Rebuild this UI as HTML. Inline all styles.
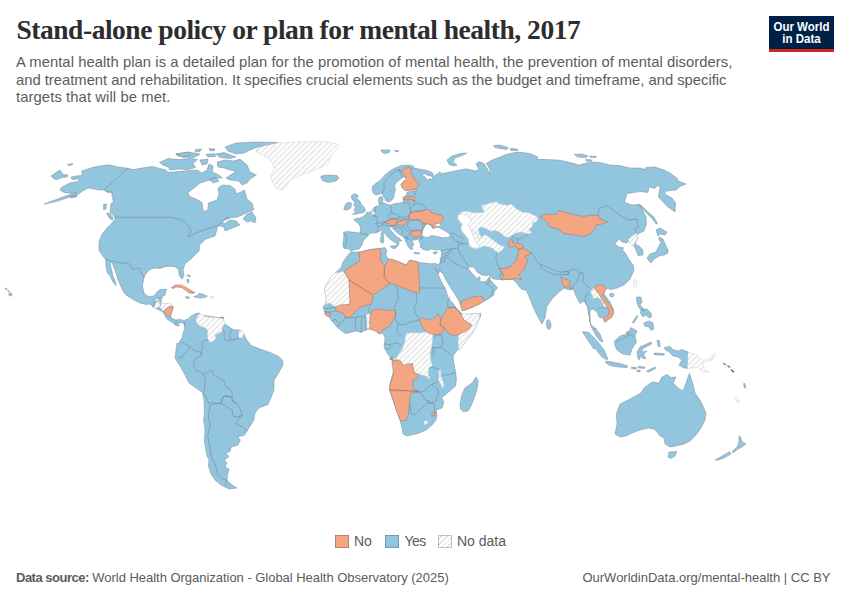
<!DOCTYPE html>
<html><head><meta charset="utf-8">
<style>
html,body{margin:0;padding:0;background:#fff;}
body{width:850px;height:600px;position:relative;overflow:hidden;font-family:"Liberation Sans",sans-serif;}
.abs{position:absolute;white-space:nowrap;}
#title{left:16.5px;top:15px;font-family:"Liberation Serif",serif;font-weight:bold;font-size:27.5px;line-height:30px;color:#2d2d2d;letter-spacing:-0.47px;}
.sub{left:16px;font-size:14.8px;line-height:18px;color:#5b5b5b;}
#logo{left:769px;top:16px;width:65px;height:33px;background:#002147;border-bottom:3px solid #ce261e;color:#fff;font-weight:bold;font-size:11.5px;line-height:11.5px;text-align:center;}
.leg{font-size:14px;line-height:16px;color:#5b5b5b;top:533.3px;}
.sw{position:absolute;top:534.7px;width:13.6px;height:13.8px;box-shadow:inset 0 0 0 0.8px rgba(0,0,0,0.28);}
.foot{font-size:13px;line-height:16px;color:#5b5b5b;top:570px;}
</style></head><body>
<div id="title" class="abs">Stand-alone policy or plan for mental health, 2017</div>
<div class="abs sub" id="s1" style="top:52.7px;letter-spacing:0.052px">A mental health plan is a detailed plan for the promotion of mental health, the prevention of mental disorders,</div>
<div class="abs sub" id="s2" style="top:70.7px;letter-spacing:-0.009px">and treatment and rehabilitation. It specifies crucial elements such as the budget and timeframe, and specific</div>
<div class="abs sub" id="s3" style="top:88.3px;letter-spacing:0.09px">targets that will be met.</div>
<div id="logo" class="abs"><div style="margin-top:5.5px;transform:scaleY(1.08)">Our World</div><div style="transform:scaleY(1.08);margin-top:0.7px">in Data</div></div>
<svg class="abs" style="left:0;top:0" width="850" height="600" viewBox="0 0 850 600">
<defs><pattern id="h" width="4" height="4" patternUnits="userSpaceOnUse" patternTransform="rotate(45)"><rect width="4" height="4" fill="#fff"/><rect width="1.3" height="4" fill="#e2e2e2"/></pattern></defs>
<path d="M350.6,251.2 L348.8,248.8 L344,248.5 L342.8,245 L343.5,240 L344,234.4 L343.5,232.2 L347.5,231.5 L353.8,232.2 L360,233.1 L360.6,228.8 L360,226.2 L358.1,223.1 L353.8,220 L355,218.8 L360,218.1 L363.8,216.2 L366.9,212.5 L369.4,212.2 L371.2,211.5 L372.5,210 L373.8,207.5 L376.2,206.2 L378.1,206 L379.4,204.4 L378.5,201.2 L378.8,198.1 L381.2,196.2 L383.1,197.8 L382.5,200.6 L383.1,202.5 L385,203.5 L387.5,204.4 L390.6,205 L395,203.5 L400,203.1 L403.1,202.5 L403.5,200.6 L403.1,198.8 L403.1,197.5 L405.6,196 L406.5,194.4 L406.9,192.5 L410,191.2 L415,191.2 L416.9,190.6 L415,189.8 L410,190 L405.6,190.6 L402.5,188.1 L401,184.4 L403.1,181.9 L406.5,178.8 L405,176.9 L402.5,177.5 L399.4,180 L395.6,183.1 L394.4,186.2 L395.6,189.4 L394.4,193.1 L393.8,196.9 L391.9,200 L389.4,201.9 L386.9,201.2 L385.6,200.6 L384.4,197.5 L383.1,196.2 L382.5,193.1 L380.6,193.8 L376.9,195 L373.8,193.8 L372.2,190.6 L372.5,186.2 L376.2,183.1 L380.6,180 L385,175 L389.4,171.2 L395,168.1 L401.2,165.6 L408.8,165 L413.8,166.2 L413.1,167.8 L418.8,169 L425,170 L431.2,171.9 L433.8,174.4 L431.9,176.2 L428.1,175.6 L425,173.8 L421.2,175 L425,176.9 L427.5,180 L430,178.8 L433.1,179.4 L431.9,176.9 L435,175.6 L437.5,173.8 L440,171.9 L441.9,173.8 L447.5,172.5 L453.8,171.2 L460,170 L466,168.8 L476,171 L479,169 L476,164 L479,161.6 L484,163.6 L488,170 L490,175 L490,170 L488,166 L486,163.6 L492,160 L500,157 L506,154.4 L518,152 L530,153.6 L538,157 L536,159 L546,159.6 L558,160 L566,161.6 L574,163.6 L579,165 L584,163.6 L592,162 L600,162.4 L610,165 L620,165.6 L630,168 L640,168 L646,169.6 L645.6,167.6 L655,167 L664,170 L670,173 L678,179 L676,180 L686,184 L680,186.4 L676,190 L666,191 L664.4,194 L672,198 L675.6,203 L675,212 L668,207 L662,201 L658.4,197 L660,188 L658,185 L655,188.4 L649,187 L648,192.4 L640,191.6 L627,193.6 L624.4,202.4 L632,205 L639,204.4 L643,211 L646,217 L646.4,224 L644,231 L638,234 L637.6,238 L635,244 L639,246 L643,250 L643,255 L638,255.6 L636,250 L634,246 L630,243 L628,240 L627,243 L622,242 L619,239 L615,244 L619,247 L624,248 L622,249 L626,254 L628,258 L633,265 L634,270 L630,279 L624,285 L617,288 L611,289.6 L606,288 L604,294 L610,302 L613.6,310 L612.4,316 L605,322 L603.6,318.4 L599,317 L597,312 L593,309 L590,310 L589.6,320 L591,325 L595,328 L600,334 L603,342 L600,341 L596,335.6 L591,326 L589,316 L588,307 L584,301 L580,303.6 L576,296 L573,288 L571,290 L566,289 L564,288 L559,292 L552,299 L547,306 L545,318 L542,324 L539,319 L534,309 L530,299 L526.3,290.3 L522,289.6 L519.2,286.8 L516.3,282.5 L512.8,279.4 L501.5,279.7 L493.7,279 L490.8,277.5 L489.4,274.7 L485.9,275.7 L480.9,274.7 L476.7,271.5 L473.8,267.3 L468.9,266.6 L467.5,268.1 L469.6,270 L472.1,273.3 L475,276.6 L476.4,278.5 L478.4,278.5 L478.8,276.6 L480.1,277.5 L479.8,281.4 L483.8,282.1 L486.6,280.7 L489.4,276.6 L490.1,279.7 L492.3,282.5 L495.1,285.1 L497.6,287.5 L494.4,291.7 L493.7,295.3 L489.4,298.1 L483.8,301.2 L479.5,303.8 L473.8,306.6 L466.8,309.4 L462.2,310.8 L461.1,306.6 L459,300.9 L454.7,293.8 L450.5,287.5 L446.2,280.4 L442.7,273.3 L440.5,271.9 L439.8,269 L439.6,271.9 L438.4,273.3 L434.9,267.6 L437.7,271.9 L439.1,276.8 L442.7,283.9 L446.2,291 L448.3,298.1 L453.3,303.8 L457.5,309.4 L460.4,312 L460.4,313.7 L466.8,314.4 L480.9,313.4 L480.2,317.2 L476.7,325 L472,334 L462,346 L459,350 L458,349 L453,356 L454,364 L455.6,372 L456.4,379 L455.6,386 L448,392.4 L441.6,398 L444,402 L442,408 L436,410 L437,414 L436.4,419 L433,424 L426,430 L418,433.6 L407,436 L403,434 L402,428 L400,420 L397,412 L393,400 L389.6,390 L390,383 L394,370 L392,360 L391,358.4 L387,353 L384,346 L384.4,344 L385,338 L383,333 L379,334 L375,330 L370,329 L366,330 L361,332.4 L356,331 L346,333.6 L343,332 L337,327 L332,321 L329,317 L325,314.4 L324.4,311 L323,307 L325.6,304 L326.4,298 L324.4,290 L326,285 L331,277 L335,273 L341,268 L343,262 L348,255 L351,252 L360,252 L370,249.6 L380,248.4 L385,247.6 L387,251 L385.6,255 L388.4,259 L394,260 L400,262.4 L406,265 L410,260 L418,262 L418.8,262.5 L425,263.1 L430,263.8 L435,263.5 L438.1,264.4 L439.4,264 L440.2,261.2 L441,257.5 L441.5,253.8 L441.2,250.6 L438.8,249.4 L435,250 L431.2,249 L426.9,250.6 L423.1,249.4 L420,246.9 L420.6,244.4 L418.8,240.6 L420,238.8 L422.5,238.1 L421.2,238.8 L418.1,239 L415,240 L411.2,240.6 L413.1,242.5 L413.8,245 L411.9,246.2 L413.1,248.8 L411.2,249.8 L408.8,247.5 L406.9,243.8 L405.6,241.2 L404.4,238.1 L401.2,235.6 L397.5,233.1 L393.8,229.4 L391,226.5 L388.8,227.5 L390.6,230 L393.1,233.1 L396.2,236.2 L400,238.8 L401.9,241 L398.1,240.6 L399.4,243.1 L398.1,245.6 L396.2,247.5 L397.2,244.4 L395,242.5 L391.2,240 L387.5,236.9 L384.4,233.1 L381.2,230.6 L378.1,231.9 L376.2,233.1 L372.5,232.8 L369.4,233.8 L368.1,235.6 L363.8,240 L361.9,245 L359.4,248.8 L353.8,249.8Z M115,218.4 L114,216 L110,212.4 L110.4,209 L111,203.6 L114,201 L113,197.6 L112.4,192 L107.6,192.4 L104,190 L99,190 L94,189 L88,188 L82.4,191.2 L76.4,195.6 L70,197 L56,201.6 L44,204 L56,199.6 L70,194.4 L76.4,192.4 L70,193.2 L64,192.4 L60,190 L62,187 L70,183 L78,181.4 L80,179 L72,179.4 L71,177 L76,176 L82.4,175.2 L81.6,171 L94,167 L108,164.8 L118,167 L128,168.2 L133,169.6 L142,168 L152,166.4 L158,168 L166,170 L168,172.4 L178,171.6 L190,170.4 L197,170 L202,173 L207,170 L209,164 L213,166 L212.4,172 L218,174.4 L222.4,178 L215,178 L210,180 L200,183 L194,188 L188,192.4 L189,196 L196,199 L202,202.4 L203,210 L205.6,211.6 L208,209 L208.4,203 L217,200 L219,194 L218,188 L222.4,185 L230,185.6 L235,189 L236,193.6 L240,192.4 L244.4,190 L247,199 L252.4,203.6 L253.6,210 L248.4,212 L242,215 L237.6,217 L230,218 L222.4,221 L224,224 L230,220 L236,221 L240,225 L230,229 L225,231 L224,227 L218,225.6 L215,236 L206,239 L200,244 L199,251 L192,258 L185,264 L183,270 L184,276 L182,279 L179.4,276 L178.4,269 L174,266.4 L166,266.4 L160,268.4 L154,268 L149,270 L145,275 L144,277.6 L142.4,286 L144,293 L148,296.4 L154,296 L157,292 L160,289.6 L166.4,289.2 L165,295 L162,297 L161,302.4 L160,304 L166,303.6 L172,305 L173,308 L171,314 L170,317 L173,319 L176,320 L180,319.4 L184,320.4 L188,319 L191,316 L196,313.6 L200,313 L198,316 L200,318 L204,315.6 L210,316.4 L220,317.6 L223,318 L224,323 L229,327 L234,330 L240,330 L244,334 L246,339 L250,344 L250,345 L260,349 L270,352.4 L278,356 L282.4,360 L283,365 L278,374 L274,380 L274,390 L270,400 L268,404.4 L259,408 L255,413 L254,419 L254,420 L247,431 L244,435.6 L237.6,436.4 L240.4,440 L238,445 L231,447 L230,451.6 L225.6,453 L229,456.4 L224.4,460 L227,463 L225,467 L229,469 L227.6,474 L227,480 L232,485 L237,488 L229,489 L221,485 L215,480 L211,474 L208.4,466 L209,460 L207,456 L204.4,442 L205,430 L203.6,420 L204.4,412 L204,400 L202.4,392.4 L196,388 L189,383 L185,375 L180,366 L175,358 L176,350 L177,343 L178,344 L182,338 L184,330 L185,327 L184.2,324 L181.4,322.4 L178.6,323.2 L179,326 L176,325.6 L173,323 L170,321 L167,319 L165,316 L163,312 L157,309 L153,307 L150,304 L146,304.4 L140,303 L134,300 L126,295 L123,291 L118,280 L115,270 L112,262.4 L110,263 L113,276 L115.6,282 L116,285.6 L113,282 L110,276 L107,272 L106,266 L105.6,259.6 L102,255 L99,250 L99,242 L102,234 L107,228 L113,222Z M159.6,162.4 L168,158.6 L179,159.6 L190,158.4 L197.6,159.6 L193,163.6 L195.6,167.6 L188,169.6 L179,169 L170,170 L168,167 L163,165Z M175.6,154 L188,152 L190,155 L184,157 L178,156Z M176,154 L188,152 L200,154 L194,157.6 L182,157Z M195.6,149.6 L201.6,149 L200,151.6 L195,151.6Z M209,148.4 L215,149 L214,151 L209.6,150.4Z M206,154.4 L215,153.6 L215.6,156.4 L208,157Z M216,154 L224,152.6 L236,157 L230,158.4 L220,157.6Z M200,160 L208,159 L207,164 L202,165Z M225,147 L236,143 L254,142 L278,142.4 L270,145 L258,147 L250,150 L244,153 L236,154 L228,151Z M217,162 L225,160 L234,161 L240,159 L247,165 L250,172 L256.4,175 L250,179 L247,183 L242,185 L239,181 L230,180 L226,178 L232,174 L236,171 L230,170 L224,168 L218,167Z M209,179 L215,177 L219,181 L213,183Z M243,219 L247,214 L252,212 L256,218 L255,223 L251,221 L247,222Z M321,176 L328,175 L337,175.6 L339,178 L336,181 L329,182.4 L323,181 L321,178Z M51,176 L60,170 L63,174.4 L68,175 L67,177 L62,177.6 L57,179.6 L54,179Z M615,434 L617,424 L616.4,414 L620,404 L630,399 L641,393 L644,388 L652,382 L659,383 L662,377 L667,374.4 L671,377.6 L676,377 L673,383 L678,388 L683,391 L686,383 L688,377 L689.6,373.6 L691,378 L693,384 L695,393 L700,400 L703,406 L706,413 L705,420 L701,428 L696,435 L690,441 L684,444 L676,446 L670,447 L665,444 L664,438 L660,436 L658,433 L654,429 L648,428 L640,430 L632,433 L626,436 L620,437Z M669,452 L677,451.6 L675,456 L671,458.4 L668,457Z M739,435.6 L741,438 L742,442 L746,443.6 L742,447 L738,449 L733,453 L732.4,451 L737,447 L739,442Z M730,451.6 L731,454 L724,458 L718,460 L715,460 L722,456Z M193.8,296.6 L197.4,295.5 L198.8,293.4 L203,294.1 L207.3,296.2 L204.5,297.6 L200.2,298.1 L196.7,297.6Z M185.1,296.9 L188.2,296.6 L189.6,298.1 L186.8,298.6Z M221,317 L223.6,317 L223.6,318.9 L221,318.9Z M609.5,294 L612.3,292.9 L614.4,294.7 L612.7,297.1 L610.2,296.6Z M546.4,320.9 L549,319.5 L551,323.8 L550.7,328 L548.5,329.7 L546.7,327.3Z M351.9,195 L355.6,193.8 L358.1,195.6 L356.9,198.8 L359.4,200.6 L361.9,205 L364.4,207.5 L365.6,210.6 L363.8,212.5 L358.8,213.5 L352.5,214.4 L355.6,212.2 L353.8,210 L355.6,207.5 L353.8,205 L355,201.9 L352.5,200 L351.2,196.9Z M343.8,209.4 L345.6,203.8 L349.4,201.9 L351.9,203.8 L350.6,208.1 L347.5,210Z M381,233.1 L383.1,232.5 L383.8,236.9 L383.5,242.5 L381.2,243.1 L380.2,239.4 L381.2,236.2Z M390,246.2 L396.2,245.6 L395,248.8 L391.9,248.1Z M413.8,252.5 L419.4,252.8 L419.8,253.8 L414.4,253.8Z M432.8,252.8 L436.9,251.5 L437.5,252.8 L434.4,254Z M381,150 L390,150 L389,152.4 L385,153.6 L381.6,152Z M394.4,150 L399,151 L396,152Z M447,160 L452,156 L460,153.6 L467,153 L462,155.6 L455,158 L453,162 L457,165 L454,166 L449,164.4Z M493.6,145.6 L500,145 L508,147.6 L507,149.6 L500,148.4 L495,147.6Z M510,148.4 L517,149 L518,150.4 L511,150.4Z M574,154.4 L582,154 L588,156 L586,157.6 L578,157Z M589.6,156 L596.4,156.4 L596,157.6 L590,157.2Z M585.6,159.4 L592,160 L591,161.6 L586,161Z M659,237 L663,239 L665,244 L668,250 L668,253 L664,255 L659,256 L654,259 L651,263 L649,261 L647,258 L650,254 L656,252 L658,248 L661,242 L659,240Z M656,230 L660,228 L667,232 L665,235 L660,234 L658,236Z M639,204.4 L641,205 L647,211 L654,217 L657.6,224 L656,224 L652,218.4 L645,211.6 L639.6,206Z M636.4,297 L641,297 L642,302 L640,305 L643,308 L645,311 L642,310.4 L639,308 L637,303Z M641,310 L647,309 L651,313 L651.6,317 L649,318 L646,315 L643,317 L640.4,313Z M643.6,323 L649,321 L653,323 L654,329 L651,330.4 L649,327 L645,326.4Z M632.4,322.4 L637,315.6 L638,316.4 L633.6,323.2Z M614.4,341 L620,336 L627,334 L631,327.6 L637,331 L635,336 L636.4,342 L632,349 L630,355 L622.4,354 L617,350 L615,346Z M582.4,331.6 L589,332.4 L598,342 L604,350 L607.6,358 L607,360 L602,357 L594,347 L594,349 L587,339Z M605.6,361 L612,362 L620,363.6 L628,366 L627,367.6 L618,367 L610,365.6 L606,363Z M631.6,367 L636.4,367.6 L636,369.2 L631.6,368.6Z M638,366.4 L645,367 L644.4,368.4 L638.4,368Z M637,370 L640.4,370.4 L640,372 L637.2,371.6Z M646.6,371 L655,367 L655.6,368.4 L648,372.4Z M638,359 L637,352 L640,347 L651,342 L651.6,344 L643,348.4 L641.6,352 L647,351 L643.6,354.4 L646,359 L642.4,358 L641,355 L639.6,359.6Z M657,340 L659.6,341 L660,347 L658,346Z M654,353 L664.4,353.6 L664,355.2 L654.4,354.8Z M664.4,347.6 L670,346.4 L673,349.6 L678,351 L682,349.6 L688,352 L687.6,368.4 L683,367.6 L679,365 L682,360 L678,357 L673,356 L669,352 L665,349.6Z M743.6,383.6 L745,383.6 L745.6,388 L744.4,388Z M460,404 L462,394 L465,388 L472,383 L476,377 L478,380 L477.6,387 L475,396 L471,406 L468,411 L463,411.6 L460.4,409Z M9,292.8 L12,293.3 L11.6,296 L9,295.6Z M5,288 L7,288.8 L6.6,290Z M7.5,290 L9.5,291.3 L9,292Z M106.6,213.6 L109,213 L113,217.6 L112.4,220 L109.6,218.4Z M103.6,204.4 L106.4,204 L106,209 L103.6,209.6Z M70,196 L76.4,194.8 L77,196.8 L71,198Z M67.6,164.4 L72.4,163.6 L72.8,164.8 L68.4,165.6Z M186.8,275 L190.3,275.4 L189.9,277.4 L188.9,276 L187,276Z M187,279.2 L188.9,279.6 L188.7,283 L187.3,282.5Z" fill="#92c5de" stroke="#7f8a93" stroke-width="0.5" stroke-linejoin="round"/>
<path d="M256,150 L264,146 L278,143 L298,142 L322,141.6 L338,144 L339,147 L334,152 L330,158 L328,164 L320,168 L310,172 L298,176 L290,180 L286,187 L281,190 L276,188 L272,182 L271,176 L274,170 L273,164 L268,158 L262,155 L256,152Z M335,273 L344,271.6 L349,280 L350,304.4 L340,305 L335.6,307 L330,303 L325.6,304 L326.4,298 L324.4,290 L326,285 L331,277Z M366,315 L370,313.6 L370,328 L367,329 L367,320Z M406.1,333.5 L412.5,332.8 L419.6,333 L426.7,332 L433,334.2 L432.3,341.3 L431.6,347.6 L430.2,354 L430.9,361.1 L432.3,365.3 L428.8,368.2 L428.1,375.3 L430.2,378.1 L429.2,378.8 L426,376 L422.4,375.3 L418.2,373.8 L414.6,373.6 L413.2,368.2 L412.5,363.6 L407.5,364.2 L403.3,365.3 L401.2,361.1 L396.9,359 L392.7,360 L392.4,358.3 L396.2,358 L399.8,352.6 L402.6,348.3 L404.7,342.7 L405.4,337Z M462,313.6 L470,314.4 L480,313.6 L479,320 L472,334 L462,346 L459,350 L458,342 L459,334 L468,324 L461,318Z M438.7,370.3 L440.8,370.3 L440.8,376.7 L443,380.9 L444,385.9 L442.5,388 L440.8,383.8 L438.7,380.9 L439.1,375.3Z M423.6,422 L427,420.4 L428,423 L425,425Z M457.8,216.3 L461.4,212 L466.3,211.3 L473.4,212.7 L481.9,212.7 L484.8,211.3 L482.6,209.2 L481.9,205.6 L489,203.5 L496.1,201.8 L500.3,204.2 L507.4,205.2 L511.7,204.2 L515.9,208.5 L521.6,212 L528.7,212.7 L535.8,216 L537.9,217.4 L536.5,221.9 L532.9,222.6 L532.2,226.9 L528.7,229 L531.5,233 L528.7,234 L521.6,232.1 L515.9,233 L511.7,235.4 L507.7,237.5 L503.9,236.1 L500.3,232.5 L495.4,230.4 L490.4,231.1 L485.5,228.3 L481.2,226.9 L478.4,228.3 L479.1,234 L481.9,237.2 L478.4,238.9 L476.3,233.3 L470.6,229.7 L463.5,227.6 L460.7,223.3Z M470.6,229.7 L476.3,233.3 L478.4,238.9 L481.9,237.5 L484,234.7 L486.9,235.4 L490.4,238.2 L496.1,242.5 L500.3,245.3 L504.6,246.7 L502.5,249.5 L498.2,252.8 L495.4,251 L492.5,248.1 L487.6,246.7 L483.3,246 L479.1,248.1 L474.8,248.8 L470.6,247.4 L468.5,243.9 L469.9,240.3 L467.8,236.1 L469.2,231.8Z M590.3,291.9 L593.9,287.6 L595.3,289.8 L597.4,291.9 L599.5,294.7 L601.7,299 L605.2,303.9 L607.3,307.5 L604.5,307.5 L602.4,302.5 L599.5,298.3 L596,297.5 L593.2,299 L592.5,295.4Z M633.5,280.5 L635.7,279.1 L637.1,281.3 L636.4,286.2 L634.5,287.6 L633.5,284.1Z M628,240 L633,235.5 L636.5,233.5 L638,235 L637,239 L634.5,243 L633.5,245.5 L631,246 L630,243Z M156.3,299 L159.6,299 L159.1,304 L164.1,303.3 L171.2,303.7 L172.9,306.1 L168.3,307.1 L164.8,309.7 L162.7,311.1 L161.3,308.3 L158.4,307.5 L155.6,308.3 L153.5,307.1 L155.6,304.7Z M196,318.9 L198.1,315.3 L200.2,313.2 L202.3,315.3 L207.3,317 L213.7,317.5 L219.3,317.9 L223.6,318.9 L225,323.1 L222.9,326 L222.2,330.9 L219.3,333 L215.1,334.5 L215.8,338 L213.7,340.8 L210.1,342.3 L208,339.4 L207.3,334.5 L208,330.2 L204.5,327.4 L200.2,326 L196.7,323.1Z M238.5,330.9 L242,330.6 L244.1,333.8 L242,338 L239.2,339.1 L237.8,335.2Z M209.7,296.6 L213.7,296.4 L214,298.1 L210.1,298.3Z M370.6,212.2 L373.1,211.2 L375,213.1 L374.4,215 L371.9,214.8Z M688,352 L696,354.4 L701,359 L705,362 L702,364 L706,370 L709,372.4 L702,371.6 L698,367 L693,368 L687.6,368.4Z M705,359.6 L710,358.4 L714,353.6 L715.6,354.4 L712,360 L706,361.2Z M734.4,397.6 L736,397.2 L739.6,402.4 L738.4,403.6Z" fill="url(#h)" stroke="#d0d0d0" stroke-width="0.5" stroke-linejoin="round"/>
<path d="M359,252.4 L370,249.6 L380,248.4 L381,255 L380,259 L384.4,265.6 L384,277 L389,283 L389,284.4 L373,295 L349,280 L344,271.6 L351,266 L360,261Z M388.4,259 L394,260 L400,262.4 L406,265 L410,260 L418,262 L419,276 L419.6,293 L416,293 L397,285.6 L389,283 L384,277 L385,265.6Z M349,280 L373,295 L372,303.6 L364,306 L359,308 L352,315 L350,318 L345,317 L343,313 L336,311 L335.6,307 L340,305 L350,304.4Z M372,310 L378,309 L387,310.4 L395,310 L396,315 L392,322 L389,327 L383,329 L380,333.6 L375,331 L370,329 L369.6,320 L371,314Z M419,320 L422,318 L430,320 L436,317 L438,313.6 L440,317 L441,322 L440,325 L444.4,328 L442,333 L436,335 L428,333 L423,328Z M440,322 L443,315 L448,308 L454,307 L459,311 L462,316 L464,320 L472,325 L468,330 L460,334 L453,335.6 L448,333 L444,328 L440,325Z M461.1,300.9 L466.8,299.5 L473.1,297 L479.5,296 L482.3,296.7 L483.8,301.2 L479.5,303.8 L473.8,306.6 L466.8,309.4 L462.2,310.8 L461.1,306.6Z M325,313 L330,312.4 L331,315 L328,316.4 L325.6,315Z M390,357.6 L392.4,357.6 L392.4,359.6 L390,359.6Z M391,357.5 L392.4,357.5 L392.4,359.7 L391,359.7Z M392.7,360.4 L400.5,361.1 L403.3,365.3 L407.5,364.2 L412.5,363.6 L413.2,368.2 L414.6,373.6 L418.2,374.1 L417.5,378.8 L413.2,379.5 L412.5,385.2 L413.9,389.4 L418.9,390.8 L416.8,391.5 L411.1,390.8 L405.4,390.6 L389.8,389.7 L389.6,386.6 L391.3,380.9 L393.4,373.8 L392.7,366.8 L392,362.5Z M389.6,390 L410,391 L418,391.6 L418.4,392.4 L411,393 L409.6,402 L408,416 L406.4,420 L403,421 L400,420 L397,412 L393,400Z M431.6,413 L434.4,412.4 L435,415.6 L432.4,416.4Z M398.1,169.4 L402.5,171.2 L405.6,168.1 L408.8,167.2 L411.2,168.8 L411,172.5 L413.1,176.2 L415,180.6 L419.4,183.8 L416.2,188.1 L415,189.8 L410,190 L405.6,190.6 L402.5,188.1 L401,184.4 L403.1,181.9 L406.5,178.8 L405.6,176.2 L403.1,173.8 L400.6,171.2Z M403.1,197.5 L405.6,196 L408.1,197.2 L410,196 L413.8,196.5 L416.2,199.4 L415,200.6 L411.2,199.8 L407.5,200.2 L403.8,199.8Z M411.2,211.2 L415,210.6 L421.2,211.2 L426.2,209.4 L430,210 L431.2,212.5 L436.2,213.8 L441.9,215.6 L443.5,217.5 L442.5,221.2 L439.4,223.1 L435,223.8 L436.2,225.6 L438.1,227.5 L435,229 L432.5,227.5 L432.5,225 L427.5,223.8 L425,223.1 L424.4,226.2 L422.2,226.5 L422.5,223.8 L421.2,221.2 L418.1,219.8 L415,220 L410,220.2 L408.5,218.8 L409.4,215.6 L410.6,213.1Z M383.1,221.9 L386.2,221.2 L390,219.4 L393.8,218.1 L397.2,219 L396.9,221.9 L395.6,223.8 L395,226.2 L391.9,226.2 L390.6,224.4 L386.9,223.1 L383.8,222.8Z M397.2,221.9 L400,221.2 L403.8,220 L408.1,219.4 L407.5,221.9 L405,224.4 L401.2,225.6 L398.1,225 L396.9,223.1Z M411,231 L416,230 L421,230.4 L421.6,233.6 L420,236.4 L415,237.2 L411.6,235.6Z M374,215 L375.2,215 L375.2,216.5 L374,216.5Z M508.1,242.5 L510.5,241 L511.4,238.9 L513.1,240.1 L512.4,242.5 L517.3,243.2 L522.3,244.6 L524.1,246.7 L521.6,248.1 L518,248.8 L515.9,246.7 L513.8,245.3 L511.7,248.1 L509.5,247.4 L508.8,244.6Z M518,249.5 L521.6,248.6 L525.8,249.5 L528.7,251.7 L531.8,252.8 L528.7,255.2 L525.1,255.9 L526.5,258.8 L528,260.9 L525.8,264.4 L524.4,268.7 L521.6,272.2 L518.8,274.3 L520.9,277.9 L521.6,280 L517.3,278.3 L511.7,278.9 L501.8,280 L503.2,275.8 L501,271.5 L498.9,268.7 L504.6,268.4 L511,266.5 L513.1,263 L515.9,261.6 L517.3,255.9 L518.8,252.4Z M540,217 L547,214 L557,214.4 L559,210.4 L565,212 L574,215 L584,216.4 L591,215 L598,215.6 L600,219 L608,222 L602,224 L596,225 L594,230 L590,234 L584,236.4 L574,235 L564,233.6 L558,229 L550,227 L547,222 L543,219Z M593.9,286.9 L599.5,284.4 L603.8,285.5 L606.6,289 L603.8,291.9 L602.8,295.4 L605.9,299.7 L609.5,303.9 L612.7,308.9 L613.7,313.8 L611.6,317.4 L607.3,320.2 L604.5,322.3 L603.8,318.1 L607.3,316 L609.5,313.1 L608,308.2 L605.2,303.9 L601.7,299 L599.5,294.7 L597.4,291.9 L595.3,289.8Z M560.6,276.7 L563.4,278.4 L567,279.8 L570.5,281 L569.4,283.4 L570.5,286.2 L571.9,289.8 L570.2,289 L568.4,286.2 L564.8,287.6 L562.7,284.1 L561.7,280.5Z M626,332.5 L627.9,331.5 L628.6,333.4 L626.9,334.4Z M171.2,287.7 L175.4,284.9 L181.1,284.9 L186.8,287.7 L191,290.5 L195,292.4 L193.1,293.4 L188.9,293 L186,290.5 L181.8,287.7 L176.8,287 L173.3,288.4Z M164.8,309.7 L168.3,307.1 L172.9,306.1 L172.3,310.4 L170.9,313.9 L170.5,316.8 L167.6,315.6 L164.8,313.2 L163.4,311.4Z" fill="#f4a582" stroke="#8a7a72" stroke-width="0.5" stroke-linejoin="round"/>
<path d="M425.6,224.8 L428.1,224 L431.2,226.2 L433.1,228.8 L435.6,227.8 L438.1,227.2 L441.2,228.8 L445.6,231.2 L449.4,233.8 L450.2,235.6 L448.1,237.5 L442.5,237.8 L436.2,236.2 L431.9,235.6 L427.5,237.5 L423.8,236.9 L421.9,235 L422.5,231.2 L423.8,227.8Z M435,224 L439.4,223.1 L440.6,225 L438.8,226.5 L435.6,226.2Z" fill="#fff" stroke="#7f8a93" stroke-width="0.5" stroke-linejoin="round"/>
<path d="M458.1,215 L461.2,213.8 L466.2,215 L470,217.5 L471.2,221.9 L468.1,225 L470,228.1 L471.9,232.5 L473.8,237.5 L476.2,242.5 L480,246.2 L477.5,248.5 L472.5,247.5 L469.4,244.4 L468.1,238.8 L465,235 L461.9,231.2 L460.6,227.5 L463.1,224.4 L460,221.9 L457.8,218.8Z" fill="#fff" stroke="#b9c2c8" stroke-width="0.5"/>
<path d="M723,363 L726,364 L725.6,365.2 L722.8,363.8Z M727.6,365 L730.4,367 L729.6,368 L727.2,366Z M731,369 L734.4,371.6 L733.6,373 L730.6,370Z" fill="#2e7d5b"/>
<path d="M128,168.2 L104.4,189.6 L107,191.6 L111.6,192.4 L112.4,198 L113.6,201 M115,217.2 L171,217.2 L176,218.4 L182,220 L188.4,225.6 L191.2,231.6 L188,236 L190,236.4 L196,233 L206,229.2 L217,226 L222.4,221.6 L224.4,219 L227.6,217.2 L230,218.4 M105.6,259.6 L113,261 L123,263.6 L128,262.4 L133,269 L139,268 L144,277.6 M153,307 L154.4,302.4 L159,301 L158.4,298 L161,297.6 M157,309 L160,307 L161,304 M170,317 L173,319 M176,320.4 L176,325.6 M184,321 L185,327 M181.3,342 L185.5,344.1 L189.8,346.2 L188.3,349.8 L183.4,354 L181.3,358.3 L177,356.1 M189.8,346.2 L194,350.5 L200.4,351.9 L201.8,355.4 M201.8,355.4 L201.1,351.9 L202.5,348.3 L201.8,342.7 L203.9,340.5 L208.2,340.1 M201.8,355.4 L196.8,357.5 L194,361.8 L194,367.5 L196.8,371 L201.1,371.7 L202.5,373.8 L204.6,376.7 L205.3,382.3 L204.6,388 L203.9,392.3 L206,397.2 L208.9,403.6 L212.4,402.2 L216.7,403.6 L220.9,403.6 M202.5,373.8 L207.5,372.4 L212.4,370.3 L213.8,375.3 L218.8,378.1 L223.8,380.9 L225.9,386.6 L230.1,388.7 L232.3,393.7 L232,397.2 L233.7,401.5 L237.2,403.6 M232,397.2 L228,395.8 L223,396.5 L221.6,400 L220.9,403.6 M222.3,327.8 L224.5,332.8 L223.8,337 L226.6,341.3 L230.8,339.8 L235.1,339.6 L238.6,338.4 L241.5,339.1 M230.8,339.8 L229.4,335.6 L230.1,332 L233,329.2 M237.9,330.6 L238.2,338.4 M210,405 L208.4,416 L210,426 L207.6,436 L210,448 L211.6,458 L214.4,463 L216.4,469 L218,475 L221,478.4 L226.4,480 L225.6,486 M210,405 L218,403 L221,404 L222.4,399 L225,396 L231,397 L233,402 L238,405 L242,413 L239,417 L233,416 L232,410 L227,407 L222,403.6 M239,417 L243,414.4 L238,420 L235.6,424 L242,427 L247.6,431 M419.6,288 L446,288 M397,285.6 L398,300 L394,307 L396,310 L395,318 L398,324 L397,332 L401,336 M372,303.6 L368,309 L370,313.6 M416,293 L417,302 L414,308 L416,314 L419,320 L410,322 L404,325 L398,324 M450,296.4 L447.6,302 L448,308 M448,308 L454,307 L459,311 L462,315 M324.4,309 L330,308 L335.6,307.6 M324.4,311.6 L331,312 L335.6,311 M332,321 L335,319 L340,324 L337,327 M340,324 L344,320 L345,317 M356,331 L355,320 L357,317 M345,317 L351,318 L357,317 L364,316 L366,315 M361,332.4 L361.6,317 M366,330 L364.4,316 M384.4,344 L390,344.4 L397,343 L401,345 M384.4,349 L390,349 L390,344.4 M433.3,336.3 L441.1,334.9 L443.2,341.3 L441.1,347.6 L431.9,347.6 M441.1,347.6 L448.2,352.6 L453.1,356.8 M430.5,349 L434,348.3 L434,354.7 L431.2,356.1 M430.5,352.3 L434,351.9 M442.5,375.3 L449.6,374.5 L455.5,372.7 M428.3,368.2 L433.3,367.5 L439,369.6 M413.5,390.8 L419.8,392 L424.8,390.8 L428.3,386.6 L432.6,383.8 L438.3,381.6 M420.5,392 L421.3,393.7 L424.8,399.3 L430.5,402.9 L436.1,400.8 L438.3,393.7 L437.5,388 L432.6,385.9 L432.6,383.8 M409.6,402 L411,414 L414,415 L420,410 L427,403 L434,403.6 L435,412 L437,414 M427,403 L429,400 M343.5,234.4 L346.2,235 L346.9,240 L345.6,245 L344,248.1 M360,233.1 L365,234.4 L368.1,235.2 M370.6,212.2 L374.4,215.6 L377.5,216.9 L376.9,221.2 L375.6,224.4 L378.1,226.2 L377.5,230 L378.1,231.9 M375.6,224.4 L378.1,222.8 L382.5,223.1 L383.1,225 L380.6,226.2 L378.1,226.2 M376.2,206.2 L375.2,210.6 L374.8,213.1 M390.6,205 L391.2,208.8 L391.9,213.1 L388.8,214.4 L387.5,216.2 L390.6,219.4 L389.4,220.6 L385,221.9 L382.5,223.1 M391.9,213.1 L396.2,214.4 L400,216.9 L398.1,218.1 L395,219.4 L390.6,219.4 M403.1,202.5 L408.8,203.1 L410,208.8 L410.6,213.1 L408.8,215 L405,217.5 L400,216.9 M398.1,218.1 L400,220 L404.4,219.4 L408.8,218.5 L408.8,215 M383.1,225 L387.5,225.6 L391,226.5 L393.8,225 L396.9,225.6 M393.8,229.4 L397.5,227.5 L401.2,228.1 L403.1,231.9 L401.2,235.6 M403.1,226.2 L405,228.8 L407.5,231.2 L410,233.8 L408.1,236.9 L405,238.1 M408.1,221.2 L412.5,220 L417.5,219.4 L421.2,221.2 L423.8,223.8 L424.4,226.9 L421.9,228.8 L422.5,231.2 M408.1,221.2 L407.5,226.2 L410,230.6 L415,231.2 L420,230.2 L422.5,231.2 M405.6,241.2 L407.5,239.4 L410.6,238.8 L415,238.1 L418.1,239 M404.4,238.1 L405.6,235.6 L406.9,237.5 L407.5,239.4 M410,208.8 L413.8,205 L417.5,203.1 L422.5,204.4 L426.2,208.1 L424.4,210.6 L421.2,211.2 L416.2,211.9 L410.6,213.1 M403.5,199.4 L410,198.8 L415,200.6 L413.8,205 M379,203.8 L382.5,203.1 M421.2,236.2 L421.9,238.8 M382.5,193.1 L384.4,188.1 L383.8,183.1 L386.9,178.8 L391.2,174.4 L395.6,171.2 L398.1,169.4 M402.5,177.5 L401.2,173.8 L398.1,169.4 M413.1,167.8 L411.2,168.8 M415,191.2 L415,195.6 M441.2,250.6 L446.2,249.4 L452.5,248.8 L458.1,248.1 L458.8,244.4 L456.9,241.2 L453.8,239.4 L451.2,235.6 M450,232.5 L455,234.4 L460,236.9 L463.8,238.1 M458.8,244.4 L463.8,243.1 L468.1,244.4 M456.9,241.2 L460.6,242.5 L462.5,245 M441.5,253.8 L444.4,254.4 L448.1,251.9 L452.5,248.8 M442.5,257.5 L448.1,255 L452.5,248.8 M458.1,248.1 L460,253.8 L462.5,257.5 L466.2,262.5 L468.1,266.9 L470,268.1 M448.1,257.5 L455,263.1 L462.5,267.5 L468.1,268.8 M441.2,262.5 L445,261.2 L443.8,258.8 L448.1,256.9 M439.8,258.8 L441,257.5 L441.2,262.5 L440.2,263.8 M483.8,301.2 L490.8,296 L493,288.2 L489.4,286 L486.6,283.9 L483.8,281.8 M486.6,283.9 L489.4,282.5 L489.7,279 M501.5,279.7 L499.3,275.4 L502.9,273.3 L499.3,268.3 L497.2,263.4 L495.8,257 L497.2,252 M531.8,252.8 L535,257.3 L536.5,260.9 L540,264.4 L545.7,266.5 L552.8,270.1 L560.5,272.2 L561.3,275 L554.2,274.3 L547.1,271.5 L541.4,268.7 L540,264.4 M562,272.2 L568.3,271.5 L569,274.3 L562.7,275 M528.7,234 L523,237.5 L518,238.9 L517.3,243.2 M511.7,235.4 L513.8,238.2 L518,238.9 M571.9,289.8 L573.3,285.5 L576.9,281.3 L579,275.6 L579.7,272.8 L582.5,272 L583.3,278.4 L582.5,282 L587.5,286.2 L590.3,288.3 M567.7,271.3 L573.3,268.8 L577.6,269.9 L579.7,272.8 M561.3,272 L567.7,271.3 L568.4,274.2 L562,274.9 M590.3,291.9 L587.5,294 L585.4,296.8 L584.7,301.1 L587.5,306.8 L588.2,312.4 L590.3,316.7 L589.6,322.3 M597.7,308.9 L601.7,307.5 L607.3,308.2 M593.2,329.4 L596.7,328.7 M615.8,342.2 L621.5,339.3 L626.5,336.5 L630,334.4 L633.5,336.5 M598,215.6 L599,208 L608,206 L618,214 L628,220 L637,219 L638,228 L634,229 L637,233.6" fill="none" stroke="#6f8090" stroke-width="0.5" stroke-linejoin="round"/>
</svg>
<div class="sw" style="left:335.2px;background:#f4a582"></div><div class="abs leg" id="l1" style="left:354px">No</div>
<div class="sw" style="left:385.2px;background:#92c5de"></div><div class="abs leg" id="l2" style="left:404.4px;letter-spacing:-0.5px">Yes</div>
<div class="sw" style="left:438.4px;background:repeating-linear-gradient(135deg,#fff 0,#fff 2.7px,#e0e0e0 2.7px,#e0e0e0 4px)"></div><div class="abs leg" id="l3" style="left:457px">No data</div>
<div class="abs foot" id="f1" style="left:16px;letter-spacing:-0.03px"><b id="fb" style="letter-spacing:-0.5px">Data source:</b> World Health Organization - Global Health Observatory (2025)</div>
<div class="abs foot" id="f2" style="right:19.5px">OurWorldinData.org/mental-health | CC BY</div>
</body></html>
